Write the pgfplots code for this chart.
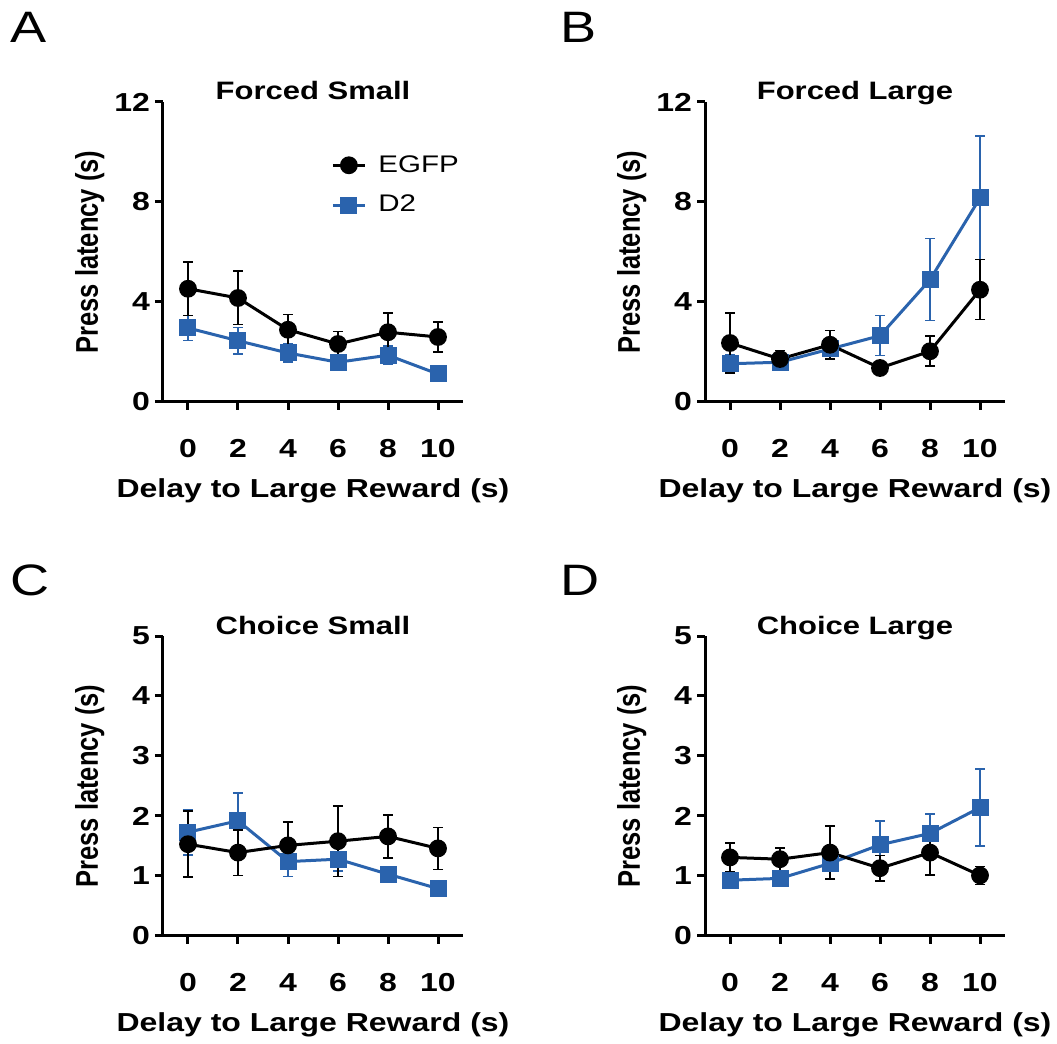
\documentclass[border=0pt]{standalone}
\usepackage{fontspec}
\setmainfont{Liberation Sans}[FakeStretch=1.23]
\newfontfamily\yfont{Liberation Sans}[FakeStretch=0.813]
\usepackage{pgfplots}
\pgfplotsset{compat=1.18}
\definecolor{dblue}{HTML}{2A63AD}

\pgfplotsset{
  panel/.style={scale only axis, width=150pt, height=150pt,
    xmin=-1, xmax=11, xtick={0,2,4,6,8,10}, ymin=0, clip=false,
    axis x line*=bottom, axis y line*=left,
    axis line style={line width=1.5pt},
    tick align=outside, major tick length=4pt,
    tick style={line width=1.5pt, black},
    /pgf/number format/assume math mode=true,
    ticklabel style={font=\bfseries\fontsize{13}{15}\selectfont},
    yticklabel style={xshift=1pt},
    xticklabel style={anchor=base, yshift=-24pt},
    xlabel={Delay to Large Reward (s)},
    ylabel={Press latency (s)},
    xlabel style={font=\bfseries\fontsize{13}{15}\selectfont,
      at={(axis description cs:0.5,-0.317)}, anchor=base},
    ylabel style={font=\yfont\bfseries\fontsize{15.7}{17}\selectfont,
      at={(axis description cs:-0.217,0.5)}, anchor=base},
    title style={font=\bfseries\fontsize{12.6}{14}\selectfont,
      at={(axis description cs:0.5,1)}, anchor=base, yshift=-5pt}},
  ebar/.style={error bars/.cd, y dir=both, y explicit,
    error bar style={line width=0.75pt},
    error mark options={rotate=90, mark size=2.5pt, line width=0.75pt}},
  egfp/.style={black, line width=1.5pt, mark=*, mark size=3.7pt, mark options={solid}, ebar},
  dtwo/.style={dblue, line width=1.5pt, mark=square*, mark size=3.5pt, mark options={solid}, ebar},
  legend image code/.code={\draw[mark repeat=2,mark phase=2,#1]
    plot coordinates {(0pt,0pt) (8pt,0pt) (16pt,0pt)};}
}

\begin{document}
\begin{tikzpicture}
\useasboundingbox (0,0) rectangle (528.5pt,522pt);

\node[anchor=base west, font=\fontsize{22}{24}\selectfont, inner sep=0pt] at (5pt,500.5pt) {A};
\node[anchor=base west, font=\fontsize{22}{24}\selectfont, inner sep=0pt] at (280pt,500.5pt) {B};
\node[anchor=base west, font=\fontsize{22}{24}\selectfont, inner sep=0pt] at (5pt,224pt) {C};
\node[anchor=base west, font=\fontsize{22}{24}\selectfont, inner sep=0pt] at (280pt,224pt) {D};

% A: Forced Small
\begin{axis}[panel, at={(81.5pt,321pt)}, anchor=south west,
  ymax=12, ytick={0,4,8,12}, title={Forced Small},
  reverse legend, legend cell align=left,
  legend style={draw=none, fill=none, at={(axis description cs:0.54,0.85)}, anchor=north west,
    font=\fontsize{12}{14}\selectfont, row sep=6pt,
    nodes={inner xsep=6pt}}]
\addplot[dtwo] coordinates {(0,2.96) +- (0,0.50) (2,2.45) +- (0,0.53) (4,1.96) +- (0,0.37)
  (6,1.59) +- (0,0.30) (8,1.87) +- (0,0.37) (10,1.12) +- (0,0.10)};
\addplot[egfp] coordinates {(0,4.53) +- (0,1.07) (2,4.16) +- (0,1.07) (4,2.89) +- (0,0.60)
  (6,2.32) +- (0,0.50) (8,2.79) +- (0,0.77) (10,2.60) +- (0,0.60)};
\legend{D2,EGFP}
\end{axis}

% B: Forced Large
\begin{axis}[panel, at={(352.5pt,321pt)}, anchor=south west,
  ymax=12, ytick={0,4,8,12}, title={Forced Large}]
\addplot[dtwo] coordinates {(0,1.53) +- (0,0.35) (2,1.59) +- (0,0.15) (4,2.12) +- (0,0.20)
  (6,2.65) +- (0,0.80) (8,4.89) +- (0,1.64) (10,8.16) +- (0,2.47)};
\addplot[egfp] coordinates {(0,2.36) +- (0,1.20) (2,1.72) +- (0,0.33) (4,2.29) +- (0,0.57)
  (6,1.36) +- (0,0.10) (8,2.03) +- (0,0.60) (10,4.49) +- (0,1.20)};
\end{axis}

% C: Choice Small
\begin{axis}[panel, at={(81.5pt,54pt)}, anchor=south west,
  ymax=5, ytick={0,1,2,3,4,5}, title={Choice Small}]
\addplot[dtwo] coordinates {(0,1.73) +- (0,0.38) (2,1.92) +- (0,0.46) (4,1.24) +- (0,0.25)
  (6,1.28) +- (0,0.20) (8,1.03) +- (0,0.05) (10,0.79) +- (0,0.05)};
\addplot[egfp] coordinates {(0,1.53) +- (0,0.55) (2,1.39) +- (0,0.38) (4,1.51) +- (0,0.39)
  (6,1.58) +- (0,0.59) (8,1.66) +- (0,0.36) (10,1.46) +- (0,0.35)};
\end{axis}

% D: Choice Large
\begin{axis}[panel, at={(352.5pt,54pt)}, anchor=south west,
  ymax=5, ytick={0,1,2,3,4,5}, title={Choice Large}]
\addplot[dtwo] coordinates {(0,0.93) +- (0,0.12) (2,0.96) +- (0,0.08) (4,1.21) +- (0,0.27)
  (6,1.52) +- (0,0.40) (8,1.71) +- (0,0.32) (10,2.14) +- (0,0.64)};
\addplot[egfp] coordinates {(0,1.31) +- (0,0.24) (2,1.28) +- (0,0.19) (4,1.39) +- (0,0.44)
  (6,1.13) +- (0,0.21) (8,1.39) +- (0,0.37) (10,1.01) +- (0,0.15)};
\end{axis}
\end{tikzpicture}
\end{document}
